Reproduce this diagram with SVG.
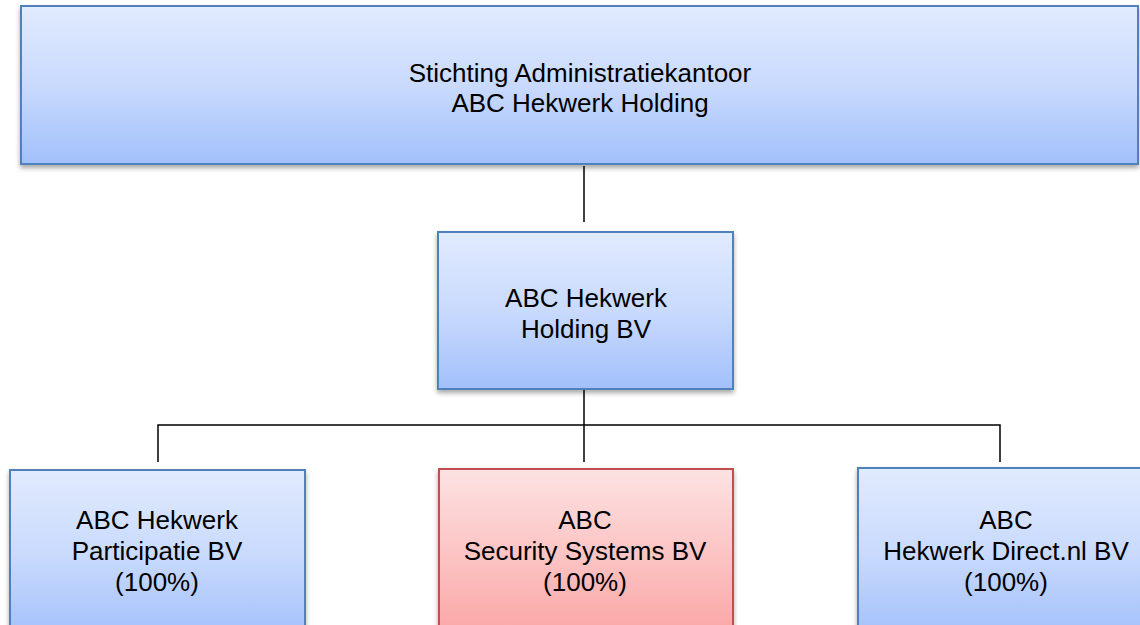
<svg xmlns="http://www.w3.org/2000/svg" width="1140" height="625" viewBox="0 0 1140 625">
<defs>
<linearGradient id="gBlue" x1="0" y1="0" x2="0" y2="1">
<stop offset="0" stop-color="#e1ebfe"/>
<stop offset="0.5" stop-color="#c9dafd"/>
<stop offset="1" stop-color="#a2c0fb"/>
</linearGradient>
<linearGradient id="gRed" x1="0" y1="0" x2="0" y2="1">
<stop offset="0" stop-color="#fde2e2"/>
<stop offset="0.5" stop-color="#fcc4c4"/>
<stop offset="1" stop-color="#fba4a4"/>
</linearGradient>
<filter id="sh" x="-5%" y="-5%" width="110%" height="120%">
<feGaussianBlur in="SourceAlpha" stdDeviation="2.5"/>
<feOffset dx="0" dy="3" result="b"/>
<feComponentTransfer><feFuncA type="linear" slope="0.35"/></feComponentTransfer>
<feMerge><feMergeNode/><feMergeNode in="SourceGraphic"/></feMerge>
</filter>
</defs>
<style>
.blue{fill:url(#gBlue);stroke:#4f81bd;stroke-width:2}
.red{fill:url(#gRed);stroke:#c0504d;stroke-width:2}
.t{font-family:"Liberation Sans",Arial,sans-serif;font-size:26px;fill:#000;text-anchor:middle}
.c{stroke:#000;stroke-width:1.5;fill:none}
</style>
<g id="connectors">
<line class="c" x1="584" y1="166" x2="584" y2="222"/>
<line class="c" x1="584" y1="386" x2="584" y2="462"/>
<polyline class="c" points="158,462 158,425 1000,425 1000,462"/>
</g>
<g id="node-stichting">
<rect class="blue" x="21" y="6" width="1117" height="158" filter="url(#sh)"/>
<text class="t" x="580" y="82">Stichting Administratiekantoor</text>
<text class="t" x="580" y="112">ABC Hekwerk Holding</text>
</g>
<g id="node-holding">
<rect class="blue" x="438" y="232" width="295" height="157" filter="url(#sh)"/>
<text class="t" x="586" y="307">ABC Hekwerk</text>
<text class="t" x="586" y="338">Holding BV</text>
</g>
<g id="node-participatie">
<rect class="blue" x="10" y="470" width="295" height="170" filter="url(#sh)"/>
<text class="t" x="157" y="529">ABC Hekwerk</text>
<text class="t" x="157" y="560">Participatie BV</text>
<text class="t" x="157" y="591">(100%)</text>
</g>
<g id="node-security">
<rect class="red" x="439" y="469" width="294" height="170" filter="url(#sh)"/>
<text class="t" x="585" y="529">ABC</text>
<text class="t" x="585" y="560">Security Systems BV</text>
<text class="t" x="585" y="591">(100%)</text>
</g>
<g id="node-direct">
<rect class="blue" x="858" y="468" width="295" height="170" filter="url(#sh)"/>
<text class="t" x="1006" y="529">ABC</text>
<text class="t" x="1006" y="560">Hekwerk Direct.nl BV</text>
<text class="t" x="1006" y="591">(100%)</text>
</g>
</svg>
